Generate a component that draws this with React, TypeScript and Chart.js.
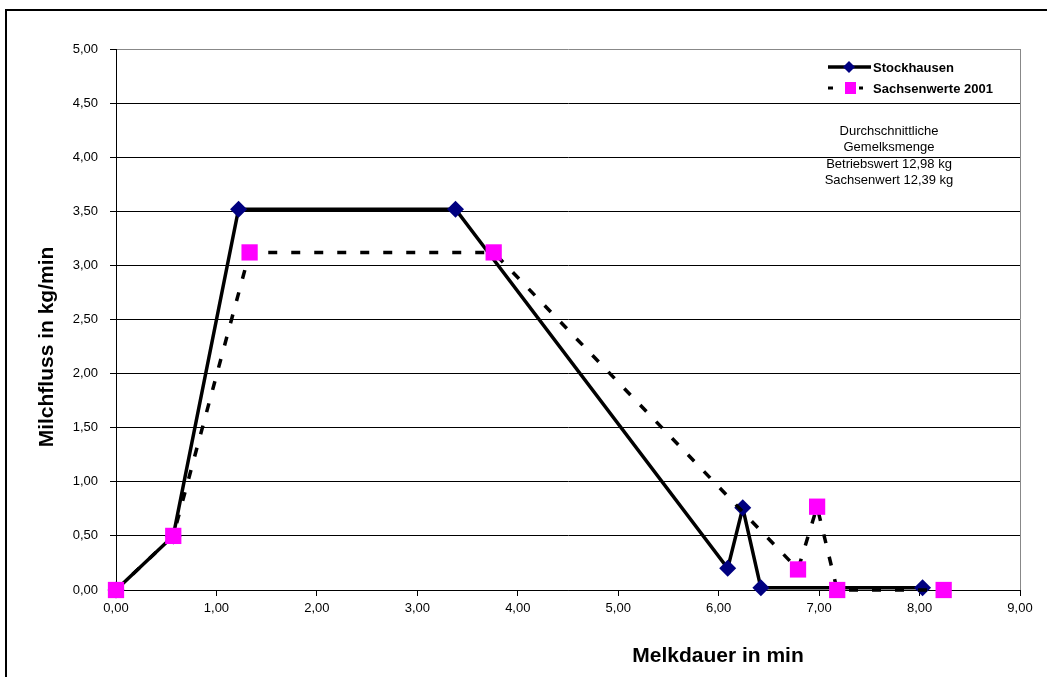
import React, { useEffect, useRef } from "react";
import { Chart, registerables } from "chart.js";

Chart.register(...registerables);

const stockX = [0, 0.57, 1.22, 3.38, 6.09, 6.24, 6.42, 8.03];
const stockY = [0, 0.5, 3.52, 3.52, 0.2, 0.76, 0.02, 0.02];
const sachsenX = [0, 0.57, 1.33, 3.76, 6.79, 6.98, 7.18, 8.24];
const sachsenY = [0, 0.5, 3.12, 3.12, 0.19, 0.77, 0.0, 0.0];
const seriesNames = ["Stockhausen", "Sachsenwerte 2001"];
const noteLines = ["Durchschnittliche", "Gemelksmenge", "Betriebswert 12,98 kg", "Sachsenwert 12,39 kg"];
const xTitle = "Melkdauer in min";
const yTitle = "Milchfluss in kg/min";

const FONT = "'Liberation Sans', Arial, sans-serif";
const fmt = (v: number) => v.toFixed(2).replace(".", ",");

const decorPlugin = {
  id: "decor",
  beforeDraw(chart: any) {
    const ctx = chart.ctx;
    ctx.save();
    ctx.fillStyle = "#fff";
    ctx.fillRect(0, 0, chart.width, chart.height);
    ctx.strokeStyle = "#000";
    ctx.lineWidth = 2;
    ctx.strokeRect(6, 10, 1060, 700);
    ctx.restore();
  },
  afterDatasetsDraw(chart: any) {
    const ctx = chart.ctx;
    const a = chart.chartArea;
    ctx.save();
    // right border of plot area
    ctx.strokeStyle = "#888";
    ctx.lineWidth = 1;
    ctx.beginPath();
    ctx.moveTo(a.right + 0.5, a.top);
    ctx.lineTo(a.right + 0.5, a.bottom);
    ctx.stroke();

    // legend
    const lx = 828;
    const y1 = 67;
    const y2 = 88;
    ctx.strokeStyle = "#000";
    ctx.lineWidth = 3.5;
    ctx.beginPath();
    ctx.moveTo(lx, y1);
    ctx.lineTo(lx + 43, y1);
    ctx.stroke();
    ctx.fillStyle = "#000080";
    ctx.beginPath();
    ctx.moveTo(lx + 21, y1 - 6);
    ctx.lineTo(lx + 27, y1);
    ctx.lineTo(lx + 21, y1 + 6);
    ctx.lineTo(lx + 15, y1);
    ctx.closePath();
    ctx.fill();
    ctx.fillStyle = "#000";
    ctx.fillRect(lx, y2 - 1.5, 5, 3);
    ctx.fillRect(lx + 31, y2 - 1.5, 4, 3);
    ctx.fillStyle = "#ff00ff";
    ctx.fillRect(lx + 17, y2 - 6, 11, 12);
    ctx.fillStyle = "#000";
    ctx.font = "bold 13px " + FONT;
    ctx.textAlign = "left";
    ctx.textBaseline = "middle";
    ctx.fillText(seriesNames[0], 873, y1 + 1);
    ctx.fillText(seriesNames[1], 873, y2 + 1);

    // note
    ctx.font = "13px " + FONT;
    ctx.textAlign = "center";
    const ny = [131, 147, 164, 180];
    noteLines.forEach((t, i) => ctx.fillText(t, 889, ny[i]));

    // axis titles
    ctx.font = "bold 21px " + FONT;
    ctx.textAlign = "center";
    ctx.fillText(xTitle, 718, 656);
    ctx.translate(47, 347);
    ctx.rotate(-Math.PI / 2);
    ctx.fillText(yTitle, 0, 0);
    ctx.restore();
  },
};

export default function App() {
  const ref = useRef<HTMLCanvasElement>(null);
  useEffect(() => {
    document.body.style.margin = "0";
    const c = new Chart(ref.current!, {
      type: "scatter",
      data: {
        datasets: [
          {
            label: seriesNames[1],
            data: sachsenX.map((x, i) => ({ x, y: sachsenY[i] })),
            showLine: true,
            clip: false,
            borderColor: "#000",
            borderWidth: 3.5,
            borderDash: [9, 14],
            pointStyle: "rect",
            pointRadius: 11.5,
            pointBackgroundColor: "#ff00ff",
            pointBorderColor: "#ff00ff",
            pointBorderWidth: 0,
            order: 0,
          },
          {
            label: seriesNames[0],
            data: stockX.map((x, i) => ({ x, y: stockY[i] })),
            showLine: true,
            clip: false,
            borderColor: "#000",
            borderWidth: 3.5,
            pointStyle: "rectRot",
            pointRadius: 8.5,
            pointBackgroundColor: "#000080",
            pointBorderColor: "#000080",
            pointBorderWidth: 0,
            order: 1,
          },
        ],
      },
      options: {
        animation: false,
        responsive: false,
        layout: { padding: { left: 0, top: 49, right: 27, bottom: 0 } },
        plugins: { legend: { display: false }, tooltip: { enabled: false } },
        scales: {
          x: {
            type: "linear",
            min: 0,
            max: 9,
            afterFit: (s: any) => {
              s.height = 87;
            },
            ticks: {
              stepSize: 1,
              color: "#000",
              font: { family: FONT, size: 13 },
              callback: (v: any) => fmt(Number(v)),
              padding: 5,
              maxRotation: 0,
            },
            grid: { drawOnChartArea: false, drawTicks: true, tickLength: 6, tickColor: "#000" },
            border: { color: "#000", width: 1 },
          },
          y: {
            type: "linear",
            min: 0,
            max: 5,
            afterFit: (s: any) => {
              s.width = 116;
            },
            ticks: {
              stepSize: 0.5,
              color: "#000",
              font: { family: FONT, size: 13 },
              callback: (v: any) => fmt(Number(v)),
              padding: 12,
            },
            grid: {
              color: (ctx: any) => (ctx.tick && ctx.tick.value === 5 ? "#888" : "#000"),
              lineWidth: 1,
              tickLength: 6,
              tickColor: "#000",
            },
            border: { color: "#000", width: 1 },
          },
        },
      },
      plugins: [decorPlugin],
    } as any);
    return () => c.destroy();
  }, []);
  return (
    <div style={{ position: "absolute", left: 0, top: 0, width: 1047, height: 677 }}>
      <canvas ref={ref} width={1047} height={677} style={{ display: "block" }} />
    </div>
  );
}
